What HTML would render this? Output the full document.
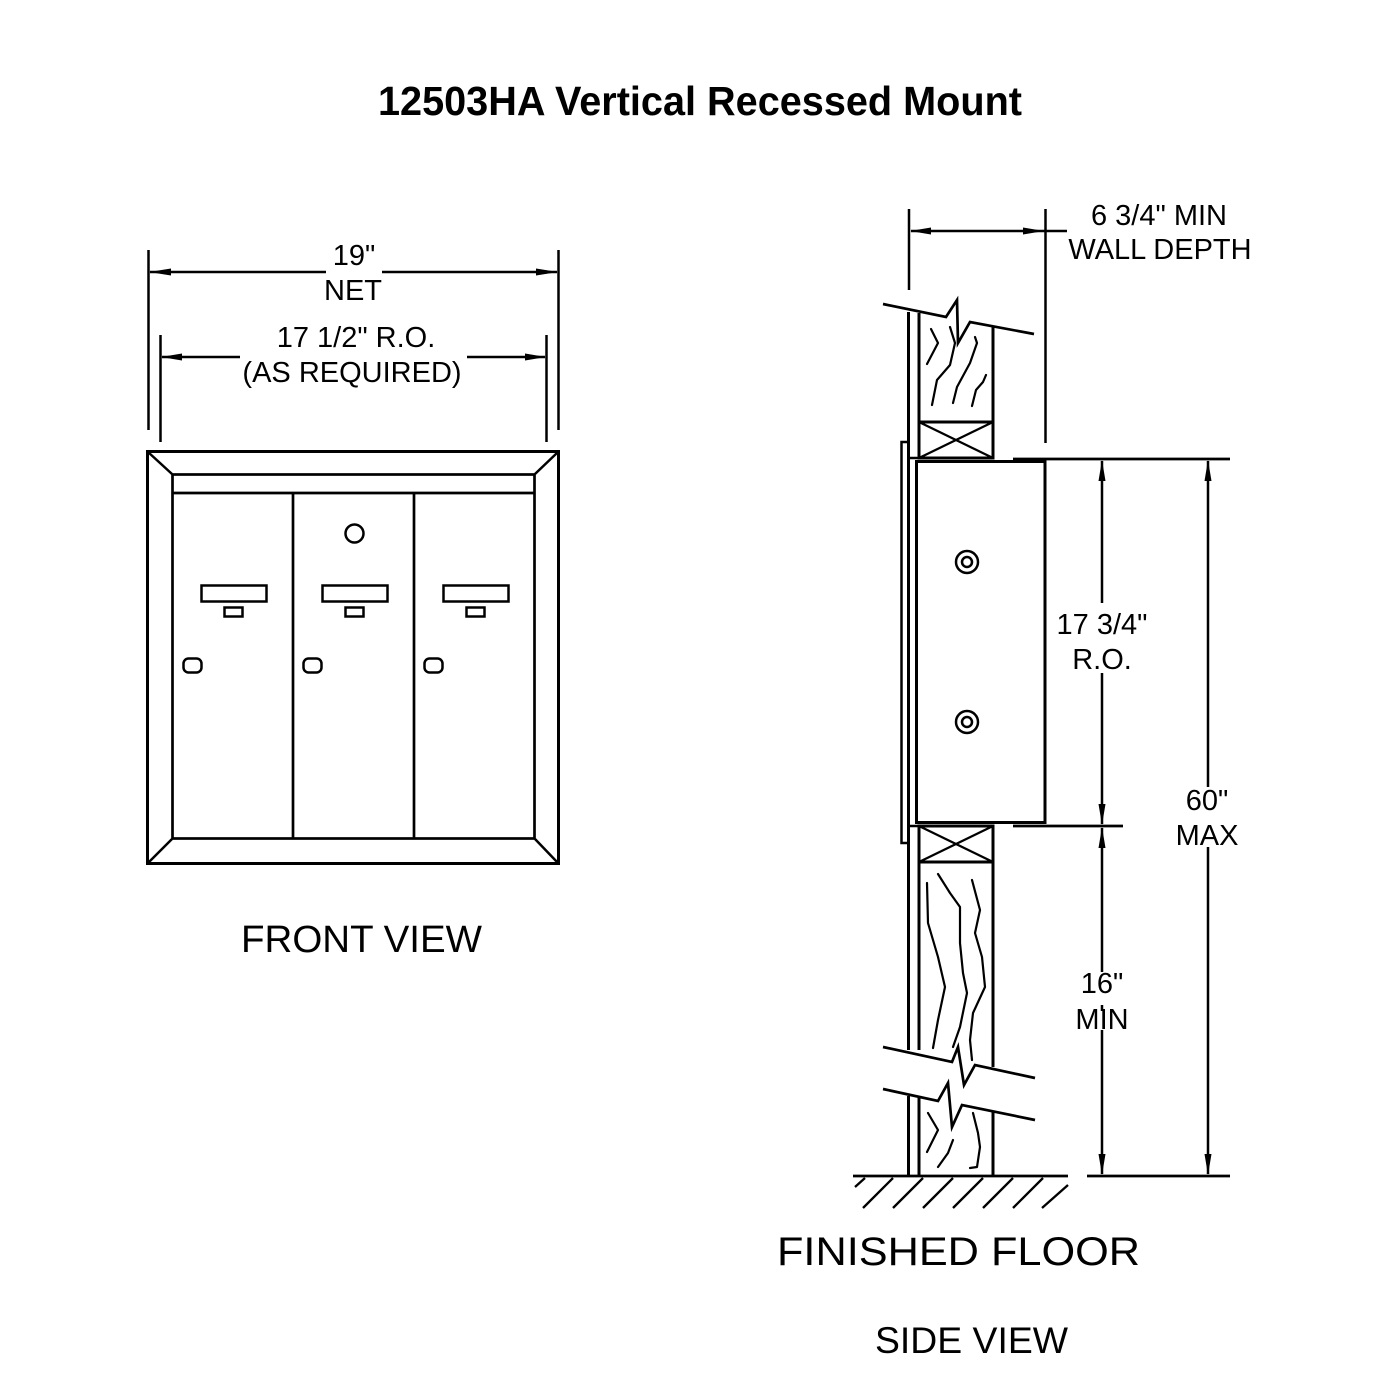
<!DOCTYPE html>
<html><head><meta charset="utf-8"><style>
html,body{margin:0;padding:0;background:#fff;}
svg{display:block;}
text{font-family:"Liberation Sans",Arial,sans-serif;fill:#000;}
</style></head><body>
<svg width="1400" height="1400" viewBox="0 0 1400 1400" xmlns="http://www.w3.org/2000/svg">
<rect width="1400" height="1400" fill="#fff"/>
<!-- Title -->
<text x="378" y="115" font-size="41" font-weight="bold" textLength="644" lengthAdjust="spacingAndGlyphs">12503HA Vertical Recessed Mount</text>

<g stroke="#000" fill="none" stroke-width="3" stroke-linecap="butt">
<!-- FRONT VIEW frame -->
<rect x="147.5" y="451.5" width="411" height="412"/>
<rect x="172.5" y="474.5" width="362" height="364" stroke-width="2.7"/>
<line x1="172" y1="493" x2="535" y2="493" stroke-width="2.7"/>
<line x1="148" y1="452" x2="172" y2="474" stroke-width="2.5"/>
<line x1="558" y1="452" x2="535" y2="474" stroke-width="2.5"/>
<line x1="148" y1="863" x2="172" y2="839" stroke-width="2.5"/>
<line x1="558" y1="863" x2="535" y2="839" stroke-width="2.5"/>
<line x1="293" y1="493" x2="293" y2="839" stroke-width="2.7"/>
<line x1="414" y1="493" x2="414" y2="839" stroke-width="2.7"/>
<circle cx="354.5" cy="533.5" r="9" stroke-width="2.5"/>
<g stroke-width="2.5">
<rect x="201.5" y="585.5" width="65" height="16"/>
<rect x="322.5" y="585.5" width="65" height="16"/>
<rect x="443.5" y="585.5" width="65" height="16"/>
<rect x="224.5" y="607.5" width="18" height="9"/>
<rect x="345.5" y="607.5" width="18" height="9"/>
<rect x="466.5" y="607.5" width="18" height="9"/>
<rect x="183.5" y="658.5" width="18" height="14" rx="5"/>
<rect x="303.5" y="658.5" width="18" height="14" rx="5"/>
<rect x="424.5" y="658.5" width="18" height="14" rx="5"/>
</g>

<!-- Front dimension lines -->
<g stroke-width="2.5">
<line x1="148.5" y1="250" x2="148.5" y2="430"/>
<line x1="558.5" y1="250" x2="558.5" y2="430"/>
<line x1="160.5" y1="335" x2="160.5" y2="442"/>
<line x1="546.5" y1="335" x2="546.5" y2="442"/>
<line x1="150" y1="272" x2="326" y2="272"/>
<line x1="382" y1="272" x2="557" y2="272"/>
<line x1="162" y1="357" x2="240" y2="357"/>
<line x1="467" y1="357" x2="545" y2="357"/>
</g>

<!-- SIDE VIEW -->
<!-- wall depth dimension -->
<g stroke-width="2.5">
<line x1="909" y1="209" x2="909" y2="290"/>
<line x1="1045.5" y1="209" x2="1045.5" y2="443"/>
<line x1="911" y1="231" x2="1067" y2="231"/>
</g>
<!-- top break line -->
<polyline points="883,304 946,317 957,300 958,343 970,322 1034,334" stroke-width="2.7" stroke-linejoin="miter"/>
<!-- wall lines upper -->
<line x1="908.5" y1="312" x2="908.5" y2="1050"/>
<line x1="919" y1="313" x2="919" y2="458"/>
<line x1="993" y1="327" x2="993" y2="458"/>
<!-- upper blocking -->
<rect x="919" y="422" width="74" height="36"/>
<line x1="919" y1="422" x2="993" y2="458" stroke-width="2.3"/>
<line x1="993" y1="422" x2="919" y2="458" stroke-width="2.3"/>
<!-- flange -->
<polyline points="909,442 901.5,442 901.5,843 909,843" stroke-width="2.5"/>
<!-- box -->
<rect x="916.5" y="461.5" width="128.5" height="361"/>
<line x1="909" y1="458" x2="993" y2="458" stroke-width="2.5"/>
<line x1="909" y1="826" x2="993" y2="826" stroke-width="2.5"/>
<circle cx="967" cy="562" r="11" stroke-width="2.5"/>
<circle cx="967" cy="562" r="5" stroke-width="2.5"/>
<circle cx="967" cy="722" r="11" stroke-width="2.5"/>
<circle cx="967" cy="722" r="5" stroke-width="2.5"/>
<!-- lower blocking -->
<rect x="919" y="826" width="74" height="36"/>
<line x1="919" y1="826" x2="993" y2="862" stroke-width="2.3"/>
<line x1="993" y1="826" x2="919" y2="862" stroke-width="2.3"/>
<line x1="919" y1="862" x2="919" y2="1050"/>
<line x1="993" y1="862" x2="993" y2="1067"/>
<!-- lower breaks -->
<polyline points="883,1047 952,1062 958,1047 964,1085 975,1065 1035,1078" stroke-width="2.7"/>
<polyline points="883,1089 938,1101 948,1083 952,1127 962,1105 1035,1120" stroke-width="2.7"/>
<line x1="908.5" y1="1096" x2="908.5" y2="1176"/>
<line x1="919" y1="1098" x2="919" y2="1176"/>
<line x1="993" y1="1112" x2="993" y2="1176"/>
<!-- grain -->
<g stroke-width="2.2" stroke-linecap="round" stroke-linejoin="round">
<polyline points="931,329 938,343 927,364"/>
<polyline points="950,327 955,343 950,365 937,380 932,405"/>
<polyline points="975,337 977,343 970,363 957,387 953,403"/>
<polyline points="986,375 983,382 976,390 972,406"/>
<polyline points="927,883 928,923 938,957 945,987 938,1020 933,1048"/>
<polyline points="938,874 950,893 960,907 960,943 963,973 967,993 960,1027 953,1047"/>
<polyline points="972,880 980,910 975,933 982,957 985,987 973,1013 970,1040 972,1060"/>
<polyline points="928,1113 938,1130 927,1152"/>
<polyline points="953,1140 948,1153 938,1167"/>
<polyline points="973,1113 978,1133 980,1147 977,1167 970,1168"/>
</g>
<!-- floor -->
<line x1="853" y1="1176" x2="1068" y2="1176" stroke-width="2.7"/>
<line x1="1087" y1="1176" x2="1230" y2="1176" stroke-width="2.7"/>
<g stroke-width="2.3">
<line x1="855" y1="1187" x2="865" y2="1178"/>
<line x1="863" y1="1208" x2="893" y2="1178"/>
<line x1="893" y1="1208" x2="923" y2="1178"/>
<line x1="923" y1="1208" x2="953" y2="1178"/>
<line x1="953" y1="1208" x2="983" y2="1178"/>
<line x1="983" y1="1208" x2="1013" y2="1178"/>
<line x1="1013" y1="1208" x2="1043" y2="1178"/>
<line x1="1042" y1="1208" x2="1068" y2="1185"/>
</g>
<!-- dimension extension lines -->
<line x1="1013" y1="459" x2="1230" y2="459" stroke-width="2.7"/>
<line x1="1013" y1="826" x2="1123" y2="826" stroke-width="2.7"/>
<!-- vertical dims -->
<g stroke-width="2.5">
<line x1="1102" y1="461" x2="1102" y2="603"/>
<line x1="1102" y1="673" x2="1102" y2="824"/>
<line x1="1102" y1="828" x2="1102" y2="972"/>
<line x1="1102" y1="1005" x2="1102" y2="1011"/>
<line x1="1102" y1="1030" x2="1102" y2="1174"/>
<line x1="1208" y1="461" x2="1208" y2="787"/>
<line x1="1208" y1="847" x2="1208" y2="1174"/>
</g>
</g>

<!-- arrowheads -->
<g fill="#000" stroke="none">
<polygon points="149,272 171,268.5 171,275.5"/>
<polygon points="558,272 536,268.5 536,275.5"/>
<polygon points="161,357 182,353.5 182,360.5"/>
<polygon points="546,357 525,353.5 525,360.5"/>
<polygon points="910,231 931,227.5 931,234.5"/>
<polygon points="1044,231 1023,227.5 1023,234.5"/>
<polygon points="1102,460 1098.5,481 1105.5,481"/>
<polygon points="1102,825 1098.5,804 1105.5,804"/>
<polygon points="1102,827 1098.5,848 1105.5,848"/>
<polygon points="1102,1175 1098.5,1154 1105.5,1154"/>
<polygon points="1208,460 1204.5,481 1211.5,481"/>
<polygon points="1208,1175 1204.5,1154 1211.5,1154"/>
</g>

<!-- dimension texts -->
<g font-size="29" text-anchor="middle">
<text x="354" y="265">19"</text>
<text x="353" y="300">NET</text>
<text x="356" y="347">17 1/2" R.O.</text>
<text x="352" y="382">(AS REQUIRED)</text>
<text x="1159" y="225">6 3/4" MIN</text>
<text x="1160" y="259">WALL DEPTH</text>
<text x="1102" y="634">17 3/4"</text>
<text x="1102" y="669">R.O.</text>
<text x="1207" y="810">60"</text>
<text x="1207" y="845">MAX</text>
<text x="1102" y="993">16"</text>
<text x="1102" y="1029">MIN</text>
</g>

<text x="241" y="952" font-size="38" textLength="241" lengthAdjust="spacingAndGlyphs">FRONT VIEW</text>
<text x="777" y="1265" font-size="40" textLength="363" lengthAdjust="spacingAndGlyphs">FINISHED FLOOR</text>
<text x="875" y="1353" font-size="37" textLength="193" lengthAdjust="spacingAndGlyphs">SIDE VIEW</text>
</svg>
</body></html>
